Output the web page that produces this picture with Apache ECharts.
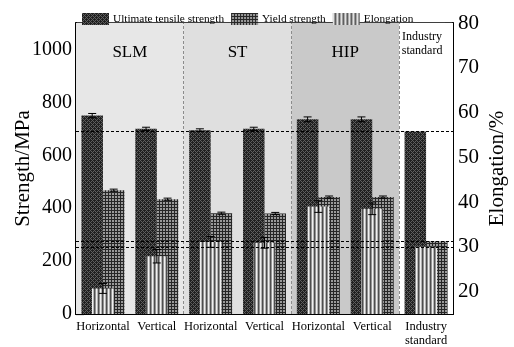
<!DOCTYPE html>
<html><head><meta charset="utf-8">
<script src="https://cdn.jsdelivr.net/npm/echarts@6/dist/echarts.min.js"></script>
<style>html,body{margin:0;padding:0;background:#fff}#c{width:514px;height:347px}</style>
</head><body><div id="c"></div>
<script>
// ---- data ----
const categories = ['Horizontal', 'Vertical', 'Horizontal', 'Vertical', 'Horizontal', 'Vertical', 'Industry\nstandard'];
const utsValues = [750, 700, 695, 700, 736, 736, 690];
const utsErrors = [8, 6, 5, 6, 9, 9, 0];
const ysValues = [468, 434, 381, 380, 442, 442, 275];
const ysErrors = [4, 4, 4, 4, 4, 4, 0];
const elongValues = [20.7, 27.9, 31.1, 30.9, 39.0, 38.5, 30.0];
const elongErrors = [1.1, 1.5, 1.2, 1.2, 1.3, 1.3, 0];
const strengthTicks = [0, 200, 400, 600, 800, 1000];
const strengthMinorTicks = [100, 300, 500, 700, 900];
const elongTicks = [20, 30, 40, 50, 60, 70, 80];
const elongMinorTicks = [25, 35, 45, 55, 65, 75];
const regionNames = ['SLM', 'ST', 'HIP', 'Industry\nstandard'];
const regionBounds = [[0, 2], [2, 4], [4, 6], [6, 7]];
const regionDividers = [2, 4, 6];
const standardStrengthLines = [690, 275];
const standardElongLines = [30];

// ---- styles ----
const SERIF = 'Liberation Serif';
function makePattern(w, h, draw) {
  const c = document.createElement('canvas');
  c.width = w; c.height = h;
  draw(c.getContext('2d'));
  return { image: c, repeat: 'repeat' };
}
const utsPattern = makePattern(4, 4, ctx => {
  ctx.fillStyle = '#202020'; ctx.fillRect(0, 0, 4, 4);
  ctx.fillStyle = '#5e5e5e';
  [[0,0],[1,1],[2,2],[3,3],[1,3],[3,1]].forEach(p => ctx.fillRect(p[0], p[1], 1, 1));
});
const ysPattern = makePattern(6, 6, ctx => {
  ctx.fillStyle = '#9a9a9a'; ctx.fillRect(0, 0, 6, 6);
  ctx.fillStyle = '#262626';
  ctx.fillRect(0, 0, 1, 6); ctx.fillRect(3, 0, 1, 6);
  ctx.fillRect(0, 0, 6, 1); ctx.fillRect(0, 3, 6, 1);
});
const elongPattern = makePattern(4, 1, ctx => {
  ['#f0f0f0', '#b4b4b4', '#4e4e4e', '#949494'].forEach((col, i) => { ctx.fillStyle = col; ctx.fillRect(i, 0, 1, 1); });
});
const regionColors = ['#e7e7e7', '#dfdfdf', '#c9c9c9', '#ffffff'];

const BW = 21.5;
function errRender(offset) {
  return function (params, api) {
    const i = api.value(0), v = api.value(1), e = api.value(2);
    const t = api.coord([i, v + e]), b = api.coord([i, v - e]);
    const x = t[0] + offset, hw = 4;
    const st = { stroke: '#000', lineWidth: 1 };
    return { type: 'group', children: [
      { type: 'line', shape: { x1: x, y1: t[1], x2: x, y2: b[1] }, style: st },
      { type: 'line', shape: { x1: x - hw, y1: t[1], x2: x + hw, y2: t[1] }, style: st },
      { type: 'line', shape: { x1: x - hw, y1: b[1], x2: x + hw, y2: b[1] }, style: st }
    ]};
  };
}
function errData(vals, errs) {
  return vals.map((v, i) => [i, v, errs[i]]).filter(d => d[2] > 0);
}
const plain = v => String(v);

const chart = echarts.init(document.getElementById('c'), null, { renderer: 'canvas' });
const axisLineStyle = { color: '#000', width: 2 };
chart.setOption({
  animation: false,
  backgroundColor: '#fff',
  textStyle: { fontFamily: SERIF },
  grid: { left: 76, right: 61, top: 23, bottom: 33, outerBoundsMode: 'none', containLabel: false,
    show: true, borderColor: '#000', borderWidth: 1.5, backgroundColor: 'transparent' },
  legend: {
    left: 77, top: 8, itemWidth: 27, itemHeight: 12, itemGap: 7,
    icon: 'rect',
    textStyle: { fontFamily: SERIF, fontSize: 11.3, color: '#000', padding: [0, 0, 0, -1] },
    data: ['Ultimate tensile strength', 'Yield strength', 'Elongation']
  },
  xAxis: [
    { type: 'category', data: categories, gridIndex: 0,
      axisLine: { lineStyle: axisLineStyle },
      axisTick: { inside: true, length: 5, lineStyle: { color: '#000' } },
      axisLabel: { color: '#000', fontFamily: SERIF, fontSize: 12.5, lineHeight: 14, margin: 6, interval: 0 },
      splitLine: { show: false } },
    { type: 'category', data: categories, show: false },
    { type: 'value', min: 0, max: 7, show: false }
  ],
  yAxis: [
    { type: 'value', min: 0, max: 1100, position: 'left',
      name: 'Strength/MPa', nameLocation: 'middle', nameGap: 42, nameMoveOverlap: false,
      nameTextStyle: { fontFamily: SERIF, fontSize: 21, color: '#000' },
      axisLine: { show: true, lineStyle: axisLineStyle },
      axisTick: { inside: true, length: 8, customValues: strengthTicks, lineStyle: { color: '#000', width: 1.2 } },
      axisLabel: { customValues: strengthTicks, formatter: plain, color: '#000', fontFamily: SERIF, fontSize: 20, margin: 4 },
      splitLine: { show: false } },
    { type: 'value', min: 15, max: 80, position: 'right',
      name: 'Elongation/%', nameLocation: 'middle', nameGap: 34, nameRotate: 90, nameMoveOverlap: false,
      nameTextStyle: { fontFamily: SERIF, fontSize: 21, color: '#000' },
      axisLine: { show: true, lineStyle: axisLineStyle },
      axisTick: { inside: true, length: 8, customValues: elongTicks, lineStyle: { color: '#000', width: 1.2 } },
      axisLabel: { customValues: elongTicks, formatter: plain, color: '#000', fontFamily: SERIF, fontSize: 21, margin: 5 },
      splitLine: { show: false } },
    { type: 'value', min: 0, max: 1100, position: 'left',
      axisLine: { show: false },
      axisTick: { show: true, inside: true, length: 4, customValues: strengthMinorTicks, lineStyle: { color: '#000', width: 1.2 } },
      axisLabel: { show: false }, splitLine: { show: false } },
    { type: 'value', min: 15, max: 80, position: 'right',
      axisLine: { show: false },
      axisTick: { show: true, inside: true, length: 4, customValues: elongMinorTicks, lineStyle: { color: '#000', width: 1.2 } },
      axisLabel: { show: false }, splitLine: { show: false } }
  ],
  series: [
    { type: 'line', xAxisIndex: 2, yAxisIndex: 0, data: [], z: 0, silent: true,
      markArea: { silent: true,
        data: regionBounds.map((b, i) => [
          { xAxis: b[0], itemStyle: { color: regionColors[i] },
            label: { show: true, position: 'insideTop', formatter: regionNames[i],
              distance: i === 3 ? 7 : 20, offset: i === 3 ? [-4, 0] : [0, 0],
              fontFamily: SERIF, fontSize: i === 3 ? 12 : 17, lineHeight: i === 3 ? 14 : 20, color: '#000' } },
          { xAxis: b[1] }
        ]) },
      markLine: { silent: true, symbol: 'none', label: { show: false },
        lineStyle: { color: '#8c8c8c', type: [3, 2], width: 1 },
        data: regionDividers.map(x => ({ xAxis: x })) } },
    { name: 'Ultimate tensile strength', type: 'bar', xAxisIndex: 0, yAxisIndex: 0,
      data: utsValues, barWidth: BW, barGap: '0%', z: 2, itemStyle: { color: utsPattern } },
    { name: 'Yield strength', type: 'bar', xAxisIndex: 0, yAxisIndex: 0,
      data: ysValues, barWidth: BW, barGap: '0%', z: 2, itemStyle: { color: ysPattern } },
    { name: 'Elongation', type: 'bar', xAxisIndex: 1, yAxisIndex: 1,
      data: elongValues, barWidth: 22, z: 3, itemStyle: { color: elongPattern } },
    { type: 'custom', xAxisIndex: 0, yAxisIndex: 0, z: 5, renderItem: errRender(-BW / 2), data: errData(utsValues, utsErrors) },
    { type: 'custom', xAxisIndex: 0, yAxisIndex: 0, z: 5, renderItem: errRender(BW / 2), data: errData(ysValues, ysErrors) },
    { type: 'custom', xAxisIndex: 1, yAxisIndex: 1, z: 5, renderItem: errRender(0), data: errData(elongValues, elongErrors) },
    { type: 'line', xAxisIndex: 2, yAxisIndex: 0, data: [], z: 6, silent: true,
      markLine: { silent: true, symbol: 'none', label: { show: false },
        lineStyle: { color: '#000', type: [3, 2], width: 1 },
        data: standardStrengthLines.map(y => ({ yAxis: y })) } },
    { type: 'line', xAxisIndex: 2, yAxisIndex: 1, data: [], z: 6, silent: true,
      markLine: { silent: true, symbol: 'none', label: { show: false },
        lineStyle: { color: '#000', type: [3, 2], width: 1 },
        data: standardElongLines.map(y => ({ yAxis: y })) } }
  ]
});
</script></body></html>
